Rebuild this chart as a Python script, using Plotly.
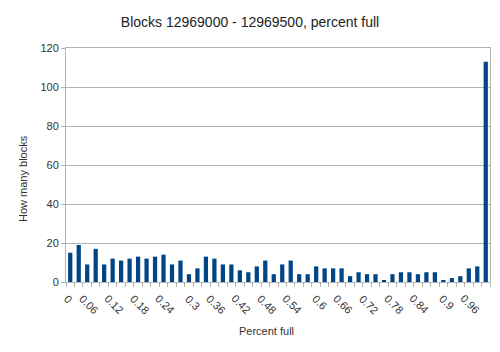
import plotly.graph_objects as go

bins = [round(i * 0.02, 2) for i in range(50)]
counts = [15, 19, 9, 17, 9, 12, 11, 12, 13, 12,
          13, 14, 9, 11, 4, 7, 13, 12, 9, 9,
          6, 5, 8, 11, 4, 9, 11, 4, 4, 8,
          7, 7, 7, 3, 5, 4, 4, 1, 4, 5,
          5, 4, 5, 5, 1, 2, 3, 7, 8, 113]
tick_labels = ["0", "0.06", "0.12", "0.18", "0.24", "0.3", "0.36", "0.42", "0.48",
               "0.54", "0.6", "0.66", "0.72", "0.78", "0.84", "0.9", "0.96"]

idx = list(range(len(bins)))
tick_idx = idx[::3]
fig = go.Figure(go.Bar(x=idx, y=counts, marker=dict(color="#004586", line=dict(width=0)),
                       hovertext=[str(b) for b in bins]))

font = "Liberation Sans, Arial, sans-serif"
fig.update_layout(
    width=500, height=352,
    margin=dict(l=66, r=10, t=48, b=70, autoexpand=False),
    paper_bgcolor="#ffffff", plot_bgcolor="#ffffff",
    bargap=0.5,
    showlegend=False,
    font=dict(family=font, size=11, color="#333333"),
    title=dict(text="Blocks 12969000 - 12969500, percent full", x=0.5, xanchor="center",
               y=0.9375, yanchor="middle", font=dict(size=14, color="#222222", family=font)),
)
for i, lab in zip(tick_idx, tick_labels):
    fig.add_annotation(x=i, y=0, xref="x", yref="paper", text=lab, showarrow=False,
                       textangle=45, xanchor="right", yanchor="top", xshift=7, yshift=-8,
                       font=dict(size=11, color="#333333", family=font))
# axis titles
fig.add_annotation(text="Percent full", showarrow=False, xref="paper", yref="paper",
                   x=(266 - 66) / 424, y=-(331 - 282) / 234, xanchor="center", yanchor="middle",
                   font=dict(size=11, color="#333333", family=font))
fig.add_annotation(text="How many blocks", showarrow=False, xref="paper", yref="paper",
                   x=-(66 - 23) / 424, y=(282 - 179) / 234, xanchor="center", yanchor="middle",
                   textangle=-90, font=dict(size=11, color="#333333", family=font))
fig.update_xaxes(
    range=[-0.5, 49.5],
    showticklabels=False,
    ticks="", showgrid=False,
    showline=True, linecolor="#b3b3b3", linewidth=1, mirror=True,
    minor=dict(tickmode="linear", tick0=0.5, dtick=1, ticks="outside", ticklen=4,
               tickcolor="#b3b3b3", showgrid=False),
    automargin=False,
    zeroline=False,
)
fig.update_yaxes(
    range=[0, 120], tickvals=[0, 20, 40, 60, 80, 100, 120],
    showgrid=True, gridcolor="#b3b3b3", gridwidth=1,
    ticks="outside", ticklen=4, tickcolor="#b3b3b3",
    showline=True, linecolor="#b3b3b3", linewidth=1, mirror=True,
    zeroline=False,
    tickfont=dict(size=11, color="#333333"),
    automargin=False,
)

fig.write_html("out.html")
